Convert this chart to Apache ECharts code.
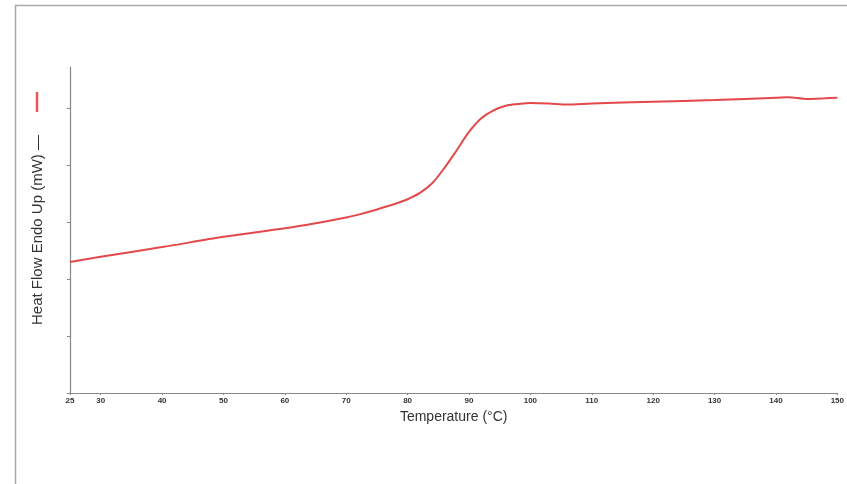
<!DOCTYPE html>
<html><head><meta charset="utf-8">
<script src="https://cdn.jsdelivr.net/npm/echarts@6/dist/echarts.min.js"></script>
<style>html,body{margin:0;padding:0;background:#fff}#c{width:847px;height:484px}</style>
</head><body><div id="c"></div>
<script>
const temps = [25,30,40,50,60,65,70,72,75,78,80,82,84,86,88,90,92,94,96,98,100,103,106,110,120,130,140,142,145,148,150];
const heatFlow = [2.30,2.39,2.56,2.74,2.89,2.98,3.08,3.13,3.22,3.32,3.40,3.51,3.68,3.95,4.26,4.58,4.82,4.96,5.04,5.07,5.09,5.08,5.06,5.08,5.11,5.14,5.18,5.19,5.16,5.17,5.18];
const xTickLabels = [25,30,40,50,60,70,80,90,100,110,120,130,140,150];
const yTicks = [0,1,2,3,4,5];

const chart = echarts.init(document.getElementById('c'), null, {renderer:'canvas'});
chart.setOption({
  animation:false,
  backgroundColor:'#fff',
  grid:{left:70,top:67,right:4,bottom:91,containLabel:false},
  xAxis:{
    type:'value',min:25,max:150,
    name:'Temperature (°C)',nameLocation:'middle',nameGap:15,
    nameTextStyle:{fontFamily:'Liberation Sans',fontSize:14,color:'#333'},
    axisLine:{lineStyle:{color:'#888',width:1.2}},
    axisTick:{show:true,length:2,inside:false,customValues:xTickLabels,lineStyle:{color:'#888'}},
    axisLabel:{customValues:xTickLabels,fontFamily:'Liberation Sans',fontSize:8,fontWeight:'bold',color:'#333',margin:4},
    splitLine:{show:false}
  },
  yAxis:{
    type:'value',min:0,max:5.72,
    name:'Heat Flow Endo Up (mW) —',nameLocation:'middle',nameGap:25,nameRotate:90,
    nameTextStyle:{fontFamily:'Liberation Sans',fontSize:15,color:'#333'},
    axisLine:{show:true,lineStyle:{color:'#888',width:1.2}},
    axisTick:{show:true,length:3,customValues:yTicks,lineStyle:{color:'#888'}},
    axisLabel:{show:false},
    splitLine:{show:false}
  },
  graphic:[
    {type:'line',shape:{x1:15,y1:5.5,x2:847,y2:5.5},style:{stroke:'#aaa',lineWidth:1.5},silent:true},
    {type:'line',shape:{x1:15.5,y1:5,x2:15.5,y2:484},style:{stroke:'#aaa',lineWidth:1.5},silent:true},
    {type:'line',shape:{x1:37,y1:92,x2:37,y2:112},style:{stroke:'#e8585a',lineWidth:2.5},silent:true}
  ],
  series:[{
    type:'line',smooth:0.3,showSymbol:false,
    data:temps.map((t,i)=>[t,heatFlow[i]]),
    lineStyle:{color:'#e4484b',width:2},
    clip:false
  }]
});
</script></body></html>
